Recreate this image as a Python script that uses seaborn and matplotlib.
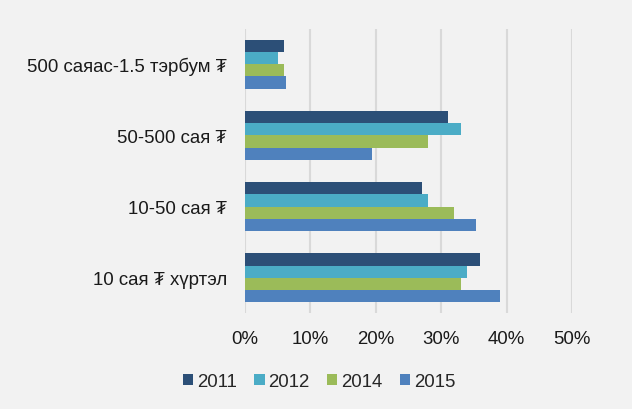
import pandas as pd
import numpy as np
import seaborn as sns
import matplotlib.pyplot as plt
from matplotlib.patches import Patch
from matplotlib.ticker import PercentFormatter

categories = ["500 саяас-1.5 тэрбум ₮", "50-500 сая ₮", "10-50 сая ₮", "10 сая ₮ хүртэл"]
years = ["2011", "2012", "2014", "2015"]
v2011 = [6.0, 31.0, 27.0, 36.0]
v2012 = [5.0, 33.0, 28.0, 34.0]
v2014 = [6.0, 28.0, 32.0, 33.0]
v2015 = [6.3, 19.4, 35.3, 39.0]
colors = ["#2C4F77", "#4BACC6", "#9BBB59", "#4F81BD"]

df = pd.DataFrame({
    "category": categories * 4,
    "year": np.repeat(years, len(categories)),
    "value": v2011 + v2012 + v2014 + v2015,
})

sns.set_style("white")
plt.rcParams["font.family"] = ["Liberation Sans", "DejaVu Sans"]

fig = plt.figure(figsize=(6.32, 4.10), dpi=100, facecolor="#F2F2F2")
ax = fig.add_axes([0.3877, 0.233, 0.905 - 0.3877, 0.928 - 0.233])
ax.set_facecolor("#F2F2F2")

sns.barplot(
    data=df, y="category", x="value", hue="year",
    order=categories, hue_order=years, palette=colors,
    orient="h", width=0.69, gap=0, saturation=1,
    linewidth=0, legend=False, ax=ax,
)

ax.set_xlim(0, 50)
ax.set_xticks(np.arange(0, 51, 10))
ax.xaxis.set_major_formatter(PercentFormatter(decimals=0))
ax.grid(axis="x", color="#D9D9D9", linewidth=1.5)
ax.set_axisbelow(True)
for s in ax.spines.values():
    s.set_visible(False)
ax.tick_params(axis="both", length=0, labelsize=13.4, colors="#1a1a1a")
ax.tick_params(axis="x", pad=12)
ax.tick_params(axis="y", pad=13)
ax.set_xlabel("")
ax.set_ylabel("")

handles = [Patch(facecolor=c, edgecolor="none") for c in colors]
fig.legend(handles, years, loc="center", bbox_to_anchor=(0.505, 0.066),
           ncol=4, frameon=False, fontsize=13.4, handlelength=0.55,
           handleheight=0.55, handletextpad=0.2, columnspacing=0.95)

fig.savefig("out.png", dpi=100, facecolor=fig.get_facecolor())
